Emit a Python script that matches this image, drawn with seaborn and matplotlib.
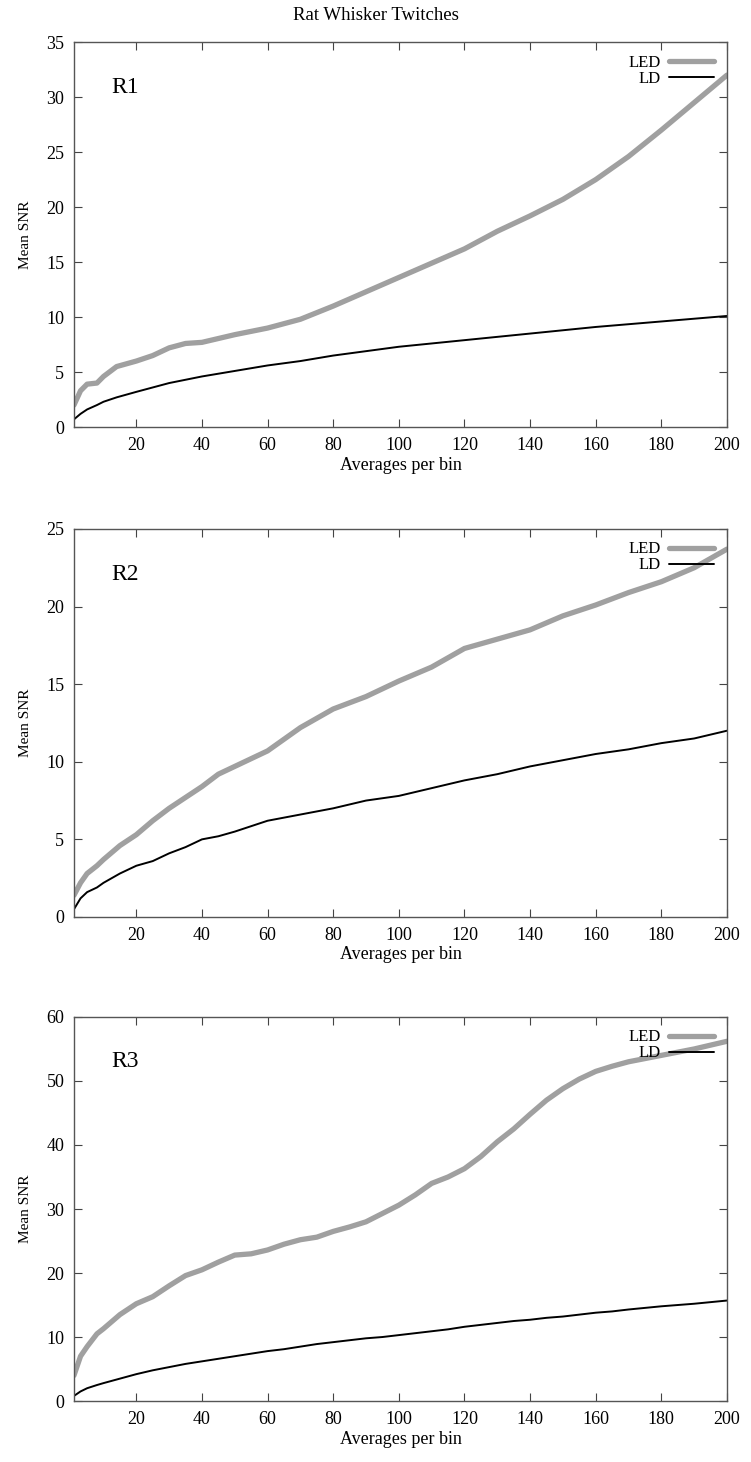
import numpy as np
import pandas as pd
import matplotlib
matplotlib.use("Agg")
import matplotlib.pyplot as plt
import seaborn as sns

# datos
x_r1 = [1, 3, 5, 8, 10, 14, 20, 25, 30, 35, 40, 50, 60, 70, 80, 90, 100, 110, 120, 130, 140, 150, 160, 170, 180, 190, 200]
led_r1 = [2.0, 3.3, 3.9, 4.0, 4.6, 5.5, 6.0, 6.5, 7.2, 7.6, 7.7, 8.4, 9.0, 9.8, 11.0, 12.3, 13.6, 14.9, 16.2, 17.8, 19.2, 20.7, 22.5, 24.6, 27.0, 29.5, 32.0]
ld_r1 = [0.7, 1.2, 1.6, 2.0, 2.3, 2.7, 3.2, 3.6, 4.0, 4.3, 4.6, 5.1, 5.6, 6.0, 6.5, 6.9, 7.3, 7.6, 7.9, 8.2, 8.5, 8.8, 9.1, 9.35, 9.6, 9.85, 10.1]

x_r2 = [1, 3, 5, 8, 10, 15, 20, 25, 30, 35, 40, 45, 50, 60, 70, 80, 90, 100, 110, 120, 130, 140, 150, 160, 170, 180, 190, 200]
led_r2 = [1.4, 2.2, 2.8, 3.3, 3.7, 4.6, 5.3, 6.2, 7.0, 7.7, 8.4, 9.2, 9.7, 10.7, 12.2, 13.4, 14.2, 15.2, 16.1, 17.3, 17.9, 18.5, 19.4, 20.1, 20.9, 21.6, 22.5, 23.7]
ld_r2 = [0.5, 1.2, 1.6, 1.9, 2.2, 2.8, 3.3, 3.6, 4.1, 4.5, 5.0, 5.2, 5.5, 6.2, 6.6, 7.0, 7.5, 7.8, 8.3, 8.8, 9.2, 9.7, 10.1, 10.5, 10.8, 11.2, 11.5, 12.0]

x_r3 = [1, 3, 5, 8, 10, 15, 20, 25, 30, 35, 40, 45, 50, 55, 60, 65, 70, 75, 80, 85, 90, 95, 100, 105, 110, 115, 120, 125, 130, 135, 140, 145, 150, 155, 160, 165, 170, 180, 190, 200]
led_r3 = [4.0, 7.0, 8.5, 10.5, 11.3, 13.5, 15.2, 16.3, 18.0, 19.6, 20.5, 21.7, 22.8, 23.0, 23.6, 24.5, 25.2, 25.6, 26.5, 27.2, 28.0, 29.3, 30.6, 32.2, 34.0, 35.0, 36.3, 38.2, 40.5, 42.5, 44.8, 47.0, 48.8, 50.3, 51.5, 52.3, 53.0, 54.0, 55.0, 56.2]
ld_r3 = [0.8, 1.5, 2.0, 2.5, 2.8, 3.5, 4.2, 4.8, 5.3, 5.8, 6.2, 6.6, 7.0, 7.4, 7.8, 8.1, 8.5, 8.9, 9.2, 9.5, 9.8, 10.0, 10.3, 10.6, 10.9, 11.2, 11.6, 11.9, 12.2, 12.5, 12.7, 13.0, 13.2, 13.5, 13.8, 14.0, 14.3, 14.8, 15.2, 15.7]

paneles = [("R1", x_r1, led_r1, ld_r1, 35, 5),
           ("R2", x_r2, led_r2, ld_r2, 25, 5),
           ("R3", x_r3, led_r3, ld_r3, 60, 10)]

sns.set_style("ticks")
plt.rcParams['font.family'] = ['Liberation Serif', 'DejaVu Serif']
plt.rcParams['text.color'] = 'black'
plt.rcParams['axes.labelcolor'] = 'black'
plt.rcParams['xtick.labelcolor'] = 'black'
plt.rcParams['ytick.labelcolor'] = 'black'

fig = plt.figure(figsize=(7.51, 14.62), dpi=100)
posiciones = [[0.0985, 0.7079, 0.8695, 0.2633],
              [0.0985, 0.3728, 0.8695, 0.2654],
              [0.0985, 0.0417, 0.8695, 0.2627]]

for (nombre, xs, led, ld, ymax, paso), pos in zip(paneles, posiciones):
    ax = fig.add_axes(pos)
    df = pd.DataFrame({'x': xs, 'LED': led, 'LD': ld})
    sns.lineplot(data=df, x='x', y='LED', ax=ax, color='#a0a0a0', linewidth=3.8, label='LED')
    sns.lineplot(data=df, x='x', y='LD', ax=ax, color='black', linewidth=1.4, label='LD')
    ax.set_xlim(1, 200)
    ax.set_ylim(0, ymax)
    ax.set_xticks(np.arange(20, 201, 20))
    ax.set_yticks(np.arange(0, ymax + 1, paso))
    ax.tick_params(direction='in', top=True, right=True, length=6, width=0.8,
                   labelsize=13, color='#444444', pad=7)
    for s in ax.spines.values():
        s.set_color('#555555')
        s.set_linewidth(1.0)
    ax.set_xlabel('Averages per bin', fontsize=13, labelpad=2)
    ax.set_ylabel('Mean SNR', fontsize=11, labelpad=10)
    ax.text(0.057, 0.883, nombre, transform=ax.transAxes, fontsize=17, va='center', ha='left')
    ax.legend(loc='upper right', frameon=False, markerfirst=False, fontsize=12,
              handlelength=2.7, labelspacing=0.0, borderaxespad=0.35, handletextpad=0.5)

fig.suptitle('Rat Whisker Twitches', fontsize=13.5, y=0.995)
fig.savefig('out.png', dpi=100)
